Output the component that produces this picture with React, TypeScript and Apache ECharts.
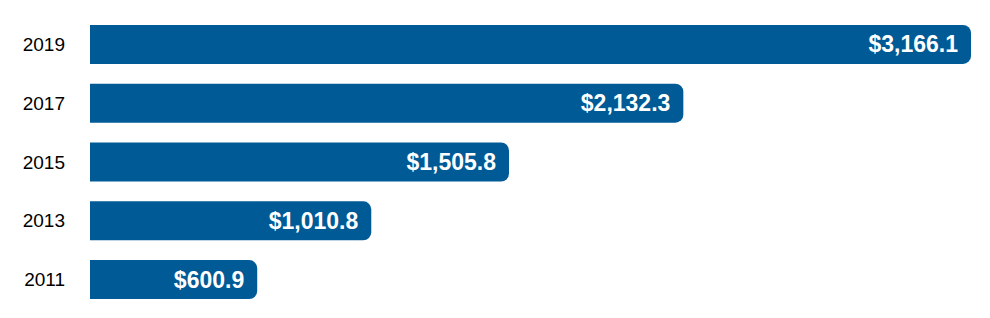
import React, { useEffect, useRef } from "react";
import * as echarts from "echarts";

const years = ["2011", "2013", "2015", "2017", "2019"];
const values = [600.9, 1010.8, 1505.8, 2132.3, 3166.1];

export default function App() {
  const ref = useRef<HTMLDivElement>(null);
  useEffect(() => {
    const chart = echarts.init(ref.current!, null, { renderer: "svg" });
    chart.setOption({
      animation: false,
      grid: { left: 90, right: 19, top: 15, bottom: 9 },
      xAxis: {
        type: "value",
        min: 0,
        max: 3166.1,
        show: false,
      },
      yAxis: {
        type: "category",
        data: years,
        axisLine: { show: false },
        axisTick: { show: false },
        axisLabel: {
          margin: 25,
          color: "#000",
          fontSize: 19,
          fontFamily: "Liberation Sans, Arial, sans-serif",
        },
      },
      series: [
        {
          type: "bar",
          data: values,
          barWidth: 39,
          itemStyle: { color: "#005a96", borderRadius: [0, 8, 8, 0] },
          label: {
            show: true,
            position: "insideRight",
            distance: 13,
            color: "#fff",
            fontSize: 23,
            fontWeight: "bold",
            fontFamily: "Liberation Sans, Arial, sans-serif",
            formatter: (p: any) =>
              "$" +
              Number(p.value).toLocaleString("en-US", {
                minimumFractionDigits: 1,
                maximumFractionDigits: 1,
              }),
          },
        },
      ],
    });
    return () => chart.dispose();
  }, []);
  return <div ref={ref} style={{ width: 990, height: 318, position: "absolute", left: 0, top: 0 }} />;
}
